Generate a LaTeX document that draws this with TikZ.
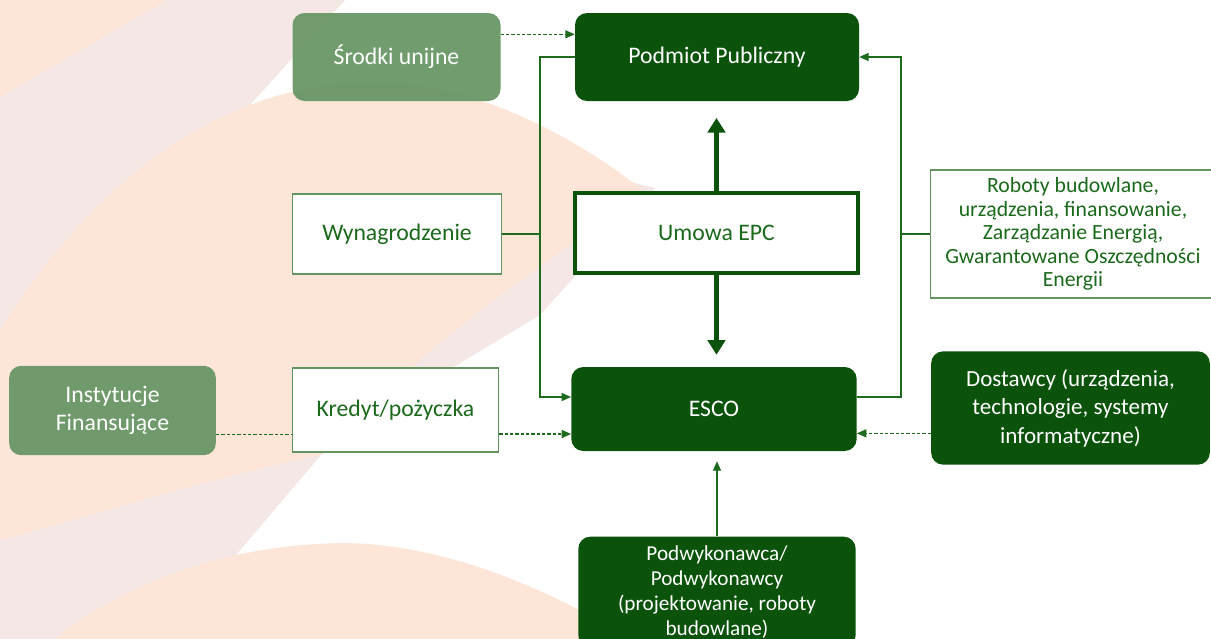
\documentclass[tikz,border=0pt]{standalone}
\usepackage{fontspec}
\setmainfont{Carlito}
\usetikzlibrary{arrows.meta,positioning}
\usepackage{xcolor}
\definecolor{dkgreen}{HTML}{0B530B}
\definecolor{mdgreen}{HTML}{6A9767}
\definecolor{txtgreen}{HTML}{1B6A1B}
\definecolor{edgegreen}{HTML}{62955F}
\definecolor{linegreen}{HTML}{1E6B1E}
\definecolor{peach}{HTML}{FDE5D8}
\definecolor{pinkgrey}{HTML}{F4E7E5}

\tikzset{
  darkbox/.style={rectangle,rounded corners=9pt,fill=dkgreen,text=white,align=center},
  softbox/.style={rectangle,rounded corners=9pt,fill=mdgreen,fill opacity=0.95,text opacity=1,text=white,align=center},
  whitebox/.style={rectangle,draw=edgegreen,line width=0.9pt,fill=white,text=txtgreen,align=center},
  bigfont/.style={font=\fontsize{17.8}{21}\selectfont},
  link/.style={draw=linegreen,line width=0.9pt},
  linkarrow/.style={link,-{Triangle[length=7pt,width=6pt]}},
  dasharrow/.style={linkarrow,dash pattern=on 2.5pt off 1.5pt},
  thickarrow/.style={draw=dkgreen,line width=3.5pt,-{Triangle[length=11pt,width=13pt]}}
}

\begin{document}
\begin{tikzpicture}[x=0.75pt,y=-0.75pt]
\useasboundingbox (0,0) rectangle (1211,639);
\clip (0,0) rectangle (1211,639);

\fill[white] (0,0) rectangle (1211,639);
\fill[pinkgrey] (0,0) -- (345,0) -- (250,105) -- (500,150) -- (655,188) -- (540,315) -- (432,380) -- (321,455) -- (230,562) -- (150,660) -- (0,660) -- cycle;
\fill[peach] (0,0) -- (167,0) -- (0,97) -- cycle;
\fill[peach] (0,330) .. controls (120,140) and (260,80) .. (380,82)
  .. controls (480,84) and (580,140) .. (645,192)
  .. controls (580,240) and (500,290) .. (420,360)
  .. controls (380,400) and (350,430) .. (320,455)
  .. controls (200,480) and (80,520) .. (0,540) -- cycle;
\fill[peach] (0,690) .. controls (80,600) and (200,545) .. (344,543)
  .. controls (470,545) and (600,610) .. (720,700) -- cycle;

\begin{scope}[bigfont]
	\node[softbox,minimum width=156pt,minimum height=66pt] (srodki) at (396.5,57) {Środki unijne};
	\node[darkbox,minimum width=213pt,minimum height=66pt] (podmiot) at (717,57) {Podmiot Publiczny};
	\node[whitebox,minimum width=157pt,minimum height=60pt] (wynagr) at (397,234) {Wynagrodzenie};
	\node[whitebox,draw=dkgreen,line width=3pt,minimum width=212pt,minimum height=60pt] (umowa) at (716.5,233) {Umowa EPC};
	\node[whitebox,font=\fontsize{16.3}{17.6}\selectfont,minimum width=214pt,minimum height=96pt] (roboty) at (1073,234) {Roboty budowlane,\\ urządzenia, finansowanie,\\ Zarządzanie Energią,\\ Gwarantowane Oszczędności\\ Energii};
	\node[softbox,minimum width=155pt,minimum height=67pt] (instyt) at (112.5,410.5) {Instytucje\\ Finansujące};
	\node[whitebox,minimum width=155pt,minimum height=63pt] (kredyt) at (395.5,410) {Kredyt/pożyczka};
	\node[darkbox,minimum width=214pt,minimum height=63pt] (esco) at (714,409) {ESCO};
	\node[darkbox,minimum width=209pt,minimum height=85pt,font=\fontsize{17.3}{21.4}\selectfont] (dostawcy) at (1070.5,408) {Dostawcy (urządzenia,\\ technologie, systemy\\ informatyczne)};
	\node[darkbox,font=\fontsize{15.9}{18.75}\selectfont,minimum width=208pt,minimum height=83pt] (podwyk) at (717,592) {Podwykonawca/\\ Podwykonawcy\\ (projektowanie, roboty\\ budowlane)};
\end{scope}

\coordinate (lbus) at (540,57);
\coordinate (rbus) at (901,57);

\begin{scope}
	\draw[dasharrow] ([yshift=17pt]srodki.east) -- ([yshift=17pt]podmiot.west);
	\draw[linkarrow] (podmiot.west) -- (lbus) |- ([yshift=9pt]esco.west);
	\draw[link] (wynagr.east) -- (wynagr.east -| lbus);
	\draw[thickarrow,shorten >=12.5pt] (umowa.north) -- (umowa.north |- podmiot.south);
	\draw[thickarrow,shorten >=9pt] (umowa.south) -- (umowa.south |- esco.north);
	\draw[linkarrow] ([yshift=9pt]esco.east) -| (rbus) -- (podmiot.east);
	\draw[link] (roboty.west) -- (roboty.west -| rbus);
	\draw[dasharrow] ([yshift=-19pt]dostawcy.west) -- ([yshift=-19pt]dostawcy.west -| esco.east);
	\draw[link,dash pattern=on 2.5pt off 1.5pt] ([yshift=-18pt]instyt.east) -- ([yshift=-18pt]instyt.east -| kredyt.west);
	\draw[dasharrow] ([yshift=-18pt]kredyt.east) -- ([yshift=-18pt]kredyt.east -| esco.west);
	\draw[linkarrow,shorten >=7.5pt] (podwyk.north) -- (podwyk.north |- esco.south);
\end{scope}
\end{tikzpicture}
\end{document}
